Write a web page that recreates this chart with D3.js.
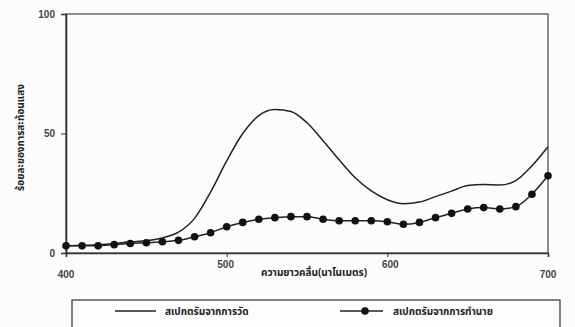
<!DOCTYPE html>
<html>
<head>
<meta charset="utf-8">
<script src="https://cdnjs.cloudflare.com/ajax/libs/d3/7.8.5/d3.min.js"></script>
<style>
  body { margin: 0; background: #fcfcfc; }
  #chart { width: 575px; height: 327px; overflow: hidden; }
</style>
</head>
<body>
<div id="chart"></div>
<script>
// wavelength in nm
var wavelengths = [400, 410, 420, 430, 440, 450, 460, 470, 480, 490, 500, 510, 520, 530, 540, 550,
                   560, 570, 580, 590, 600, 610, 620, 630, 640, 650, 660, 670, 680, 690, 700]
// measured spectrum (%)
var measured = [3.0, 3.2, 3.5, 4.0, 4.7, 5.1, 6.3, 8.7, 14.5, 25.5, 38.5, 50.0, 57.5, 60.0, 59.2, 54.5,
                47.0, 39.0, 31.5, 26.0, 22.3, 20.6, 21.3, 23.6, 25.9, 28.2, 28.7, 28.4, 30.3, 36.5, 44.5]
// predicted spectrum (%)
var predicted = [3.0, 3.0, 3.0, 3.5, 4.0, 4.3, 4.7, 5.3, 6.8, 8.5, 11.0, 12.8, 14.1, 14.8, 15.2, 15.2,
                 14.1, 13.5, 13.5, 13.5, 13.1, 12.0, 12.8, 14.8, 16.6, 18.4, 19.0, 18.4, 19.4, 24.6, 32.3]
var xTicks = [400, 500, 600, 700]
var yTicks = [0, 50, 100]
var seriesNames = ["สเปกตรัมจากการวัด", "สเปกตรัมจากการทำนาย"]
var xTitle = "ความยาวคลื่น(นาโนเมตร)"
var yTitle = "ร้อยละของการสะท้อนแสง"

var W = 575, H = 327
var margin = {top: 14, right: 27, bottom: 74, left: 66},
    width = W - margin.left - margin.right,
    height = H - margin.top - margin.bottom

var font = "'Liberation Sans', Arial, sans-serif"
var thai = "'Noto Sans Thai', 'Noto Sans', 'DejaVu Sans', sans-serif"
var ink = "#222"

var svg = d3.select("#chart").append("svg")
  .attr("width", W)
  .attr("height", H)

var g = svg.append("g")
  .attr("transform", "translate(" + margin.left + "," + margin.top + ")")

var x = d3.scaleLinear().domain([400, 700]).range([0, width])
var y = d3.scaleLinear().domain([0, 100]).range([height, 0])

// frame round the plot
g.append("rect")
  .attr("x", 0).attr("y", 0)
  .attr("width", width).attr("height", height)
  .attr("fill", "none")
  .attr("stroke", "#555")
  .attr("stroke-width", 1.3)

// y axis
var yAxis = g.append("g")
  .call(d3.axisLeft(y).tickValues(yTicks).tickSize(5).tickPadding(6))
yAxis.select(".domain").attr("stroke", "#333").attr("stroke-width", 1.6)
yAxis.selectAll(".tick line").attr("stroke", "#333")
yAxis.selectAll("text")
  .attr("font-family", font).attr("font-size", 10).attr("font-weight", "bold").attr("fill", "#444")

// x axis, labels drawn by hand below
var xAxis = g.append("g")
  .attr("transform", "translate(0," + height + ")")
  .call(d3.axisBottom(x).tickValues(xTicks).tickSize(4).tickFormat(""))
xAxis.select(".domain").attr("stroke", "#333").attr("stroke-width", 1.6)
xAxis.selectAll(".tick line").attr("stroke", "#333")

// the middle labels sit a little higher, like in the scan
g.selectAll(".xlab")
  .data(xTicks)
  .enter()
  .append("text")
    .attr("class", "xlab")
    .attr("x", function(d){ return x(d) + (d == 500 ? -1 : (d == 600 ? 3 : 0)) })
    .attr("y", function(d){ return (d == 400 || d == 700) ? height + 25 : height + 15 })
    .attr("text-anchor", "middle")
    .attr("font-family", font).attr("font-size", 10).attr("font-weight", "bold").attr("fill", "#444")
    .text(function(d){ return d })

g.append("text")
  .attr("x", (x(500) + x(600)) / 2 + 7)
  .attr("y", height + 23)
  .attr("text-anchor", "middle")
  .attr("font-family", thai).attr("font-size", 10).attr("font-weight", "bold").attr("fill", ink)
  .text(xTitle)

g.append("text")
  .attr("transform", "translate(-42," + (height / 2 + 4) + ") rotate(-90)")
  .attr("text-anchor", "middle")
  .attr("font-family", thai).attr("font-size", 10).attr("font-weight", "bold").attr("fill", ink)
  .text(yTitle)

var line = d3.line()
  .x(function(d){ return x(d[0]) })
  .y(function(d){ return y(d[1]) })
  .curve(d3.curveMonotoneX)

var mData = wavelengths.map(function(w, i){ return [w, measured[i]] })
var pData = wavelengths.map(function(w, i){ return [w, predicted[i]] })

g.append("path")
  .datum(mData)
  .attr("d", line)
  .attr("fill", "none")
  .attr("stroke", ink)
  .attr("stroke-width", 1.5)

g.append("path")
  .datum(pData)
  .attr("d", line)
  .attr("fill", "none")
  .attr("stroke", ink)
  .attr("stroke-width", 1.5)

g.selectAll(".pt")
  .data(pData)
  .enter()
  .append("circle")
    .attr("class", "pt")
    .attr("cx", function(d){ return x(d[0]) })
    .attr("cy", function(d){ return y(d[1]) })
    .attr("r", 3.8)
    .attr("fill", "#111")

// legend, the box runs off the bottom of the picture
var lg = svg.append("g").attr("transform", "translate(72,300)")
lg.append("rect")
  .attr("x", 0).attr("y", 0)
  .attr("width", 488).attr("height", 40)
  .attr("fill", "#fdfdfd")
  .attr("stroke", "#444")
  .attr("stroke-width", 1.3)

lg.append("line")
  .attr("x1", 43).attr("x2", 84).attr("y1", 11).attr("y2", 11)
  .attr("stroke", ink).attr("stroke-width", 1.5)
lg.append("text")
  .attr("x", 93).attr("y", 15)
  .attr("font-family", thai).attr("font-size", 10).attr("font-weight", "bold").attr("fill", ink)
  .text(seriesNames[0])

lg.append("line")
  .attr("x1", 268).attr("x2", 311).attr("y1", 11).attr("y2", 11)
  .attr("stroke", ink).attr("stroke-width", 1.5)
lg.append("circle")
  .attr("cx", 293).attr("cy", 11).attr("r", 3.8).attr("fill", "#111")
lg.append("text")
  .attr("x", 321).attr("y", 15)
  .attr("font-family", thai).attr("font-size", 10).attr("font-weight", "bold").attr("fill", ink)
  .text(seriesNames[1])
</script>
</body>
</html>
